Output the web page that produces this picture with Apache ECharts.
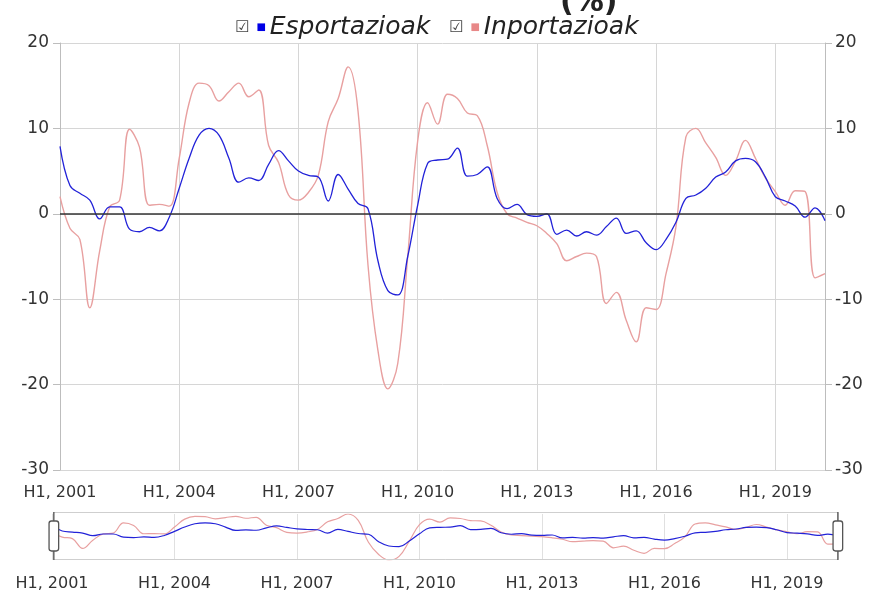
<!DOCTYPE html>
<html>
<head>
<meta charset="utf-8">
<script src="https://cdn.jsdelivr.net/npm/echarts@6/dist/echarts.min.js"></script>
<style>
  html, body { margin: 0; padding: 0; background: #fff; }
  #main { width: 869px; height: 596px; }
</style>
</head>
<body>
<div id="main"></div>
<script>
// quarterly periods 2001 Q1 .. 2020 Q2
var years = [];
for (var y = 2001; y <= 2020; y++) years.push(y);
var periods = [];
years.forEach(function (yr) {
  ['Q1', 'Q2', 'Q3', 'Q4'].forEach(function (q) { periods.push(yr + ' ' + q); });
});
periods = periods.slice(0, 78);

// Esportazioak (%)
var esportazioak = [
  7.9, 3.3, 2.4, 1.6, -0.6, 0.8, 0.8, -1.8, -2.1, -1.6,
  -2.0, -0.4, 3.0, 6.5, 9.2, 10.0, 9.2, 6.5, 3.7, 4.2,
  3.9, 5.8, 7.4, 6.2, 5.0, 4.5, 4.3, 1.5, 4.6, 2.9,
  1.2, 0.6, -5.5, -9.0, -9.5, -5.0, 1.0, 5.9, 6.3, 6.4,
  7.7, 4.4, 4.6, 5.5, 1.8, 0.6, 1.1, -0.1, -0.3, 0.0,
  -2.4, -1.9, -2.6, -2.1, -2.5, -1.5, -0.5, -2.3, -2.0, -3.4,
  -4.2, -3.0, -1.0, 1.8, 2.2, 3.0, 4.3, 4.9, 6.2, 6.5,
  6.1, 4.3, 2.0, 1.5, 0.9, -0.4, 0.7, -0.8
];

// Inportazioak (%)
var inportazioak = [
  2.0, -1.7, -3.0, -11.0, -4.3, 0.8, 1.6, 9.9, 7.8, 1.0,
  1.1, 0.9, 6.5, 13.0, 15.3, 15.0, 13.2, 14.3, 15.3, 13.7,
  14.5, 8.0, 6.0, 2.2, 1.6, 2.5, 4.5, 10.8, 13.5, 17.2,
  12.0, -6.0, -16.0, -20.5, -17.5, -5.0, 8.5, 13.0, 10.5, 14.0,
  13.5, 11.8, 11.5, 8.0, 2.5, 0.0, -0.5, -1.0, -1.4, -2.3,
  -3.5, -5.5, -5.0, -4.6, -5.0, -10.5, -9.2, -12.5, -15.0, -11.0,
  -11.2, -7.0, -1.5, 9.0, 10.0, 8.3, 6.6, 4.5, 6.2, 8.6,
  6.5, 4.2, 2.6, 1.0, 2.7, 2.6, -7.5, -7.0
];

var yTicks = [-30, -20, -10, 0, 10, 20];

var blue = '#2222d8';
var pink = '#e8a0a0';
var font = 'DejaVu Sans';

function halfLabel(v) {
  return 'H1, ' + v.slice(0, 4);
}

var myChart = echarts.init(document.getElementById('main'), null, { renderer: 'canvas' });

var option = {
  animation: false,
  textStyle: { fontFamily: font },
  title: {
    text: '(%)',
    left: 555,
    top: -17,
    textStyle: { fontSize: 30, fontWeight: 'bold', color: '#222', fontFamily: font }
  },
  legend: {
    data: ['Esportazioak', 'Inportazioak'],
    top: 10,
    left: 'center',
    itemWidth: 0,
    itemHeight: 0,
    itemGap: 14,
    icon: 'rect',
    formatter: function (name) {
      var sq = name === 'Esportazioak' ? '{b|■}' : '{r|■}';
      return '{c|☑} ' + sq + ' {t|' + name + '}';
    },
    textStyle: {
      rich: {
        c: { fontSize: 16, color: '#444', fontFamily: font, padding: [0, 3, 0, 0] },
        b: { fontSize: 10, color: '#0000e6', fontFamily: font },
        r: { fontSize: 10, color: '#e88888', fontFamily: font },
        t: { fontSize: 25, fontStyle: 'italic', color: '#222', fontFamily: font }
      }
    }
  },
  grid: [
    { left: 60, right: 44, top: 43, bottom: 126, containLabel: false, outerBoundsMode: 'none' },
    { left: 52, right: 31, top: 514, height: 46, containLabel: false, outerBoundsMode: 'none' }
  ],
  xAxis: [
    {
      type: 'category',
      gridIndex: 0,
      data: periods,
      boundaryGap: false,
      axisLine: { show: false },
      axisTick: { show: false },
      axisLabel: { interval: 11, formatter: halfLabel, fontSize: 16, color: '#333', margin: 15 },
      splitLine: { show: true, interval: 11, lineStyle: { color: '#d6d6d6' } }
    },
    {
      type: 'category',
      gridIndex: 1,
      data: periods,
      boundaryGap: false,
      axisLine: { show: false },
      axisTick: { show: false },
      axisLabel: { interval: 11, formatter: halfLabel, fontSize: 16, color: '#333', margin: 16 },
      splitLine: { show: true, interval: 11, lineStyle: { color: '#e0e0e0' } }
    }
  ],
  yAxis: [
    {
      type: 'value',
      gridIndex: 0,
      position: 'left',
      min: yTicks[0],
      max: yTicks[yTicks.length - 1],
      interval: 10,
      axisLine: { show: true, lineStyle: { color: '#bdbdbd' } },
      axisTick: { show: true, length: 7, lineStyle: { color: '#bdbdbd' } },
      axisLabel: { fontSize: 17, color: '#333', margin: 11 },
      splitLine: { show: true, lineStyle: { color: '#d6d6d6' } }
    },
    {
      type: 'value',
      gridIndex: 0,
      position: 'right',
      min: yTicks[0],
      max: yTicks[yTicks.length - 1],
      interval: 10,
      axisLine: { show: true, lineStyle: { color: '#bdbdbd' } },
      axisTick: { show: true, length: 7, lineStyle: { color: '#bdbdbd' } },
      axisLabel: { fontSize: 17, color: '#333', margin: 10 },
      splitLine: { show: false }
    },
    {
      type: 'value',
      gridIndex: 1,
      min: 'dataMin',
      max: 'dataMax',
      show: false
    }
  ],
  dataZoom: [
    {
      type: 'slider',
      xAxisIndex: [0],
      start: 0,
      end: 100,
      left: 52,
      right: 31,
      top: 512,
      height: 48,
      showDetail: false,
      showDataShadow: false,
      brushSelect: false,
      moveHandleSize: 0,
      backgroundColor: 'rgba(0,0,0,0)',
      fillerColor: 'rgba(0,0,0,0)',
      borderColor: '#cfcfcf',
      handleSize: '100%',
      handleStyle: { color: '#fff', borderColor: '#555', borderWidth: 1.3 }
    }
  ],
  series: [
    {
      name: 'Inportazioak',
      type: 'line',
      xAxisIndex: 0,
      yAxisIndex: 0,
      data: inportazioak,
      smooth: 0.4,
      showSymbol: false,
      color: pink,
      z: 2,
      lineStyle: { width: 1.4, color: pink }
    },
    {
      name: 'Esportazioak',
      type: 'line',
      xAxisIndex: 0,
      yAxisIndex: 0,
      data: esportazioak,
      smooth: 0.4,
      showSymbol: false,
      color: blue,
      z: 3,
      lineStyle: { width: 1.3, color: blue },
      markLine: {
        silent: true,
        symbol: ['none', 'none'],
        label: { show: false },
        lineStyle: { color: '#333', width: 1.5, type: 'solid' },
        data: [{ yAxis: 0 }]
      }
    },
    {
      name: 'Inportazioak',
      type: 'line',
      xAxisIndex: 1,
      yAxisIndex: 2,
      data: inportazioak,
      smooth: 0.4,
      showSymbol: false,
      color: pink,
      lineStyle: { width: 1.2, color: pink }
    },
    {
      name: 'Esportazioak',
      type: 'line',
      xAxisIndex: 1,
      yAxisIndex: 2,
      data: esportazioak,
      smooth: 0.4,
      showSymbol: false,
      color: blue,
      lineStyle: { width: 1.2, color: blue }
    }
  ]
};

option && myChart.setOption(option);
</script>
</body>
</html>
